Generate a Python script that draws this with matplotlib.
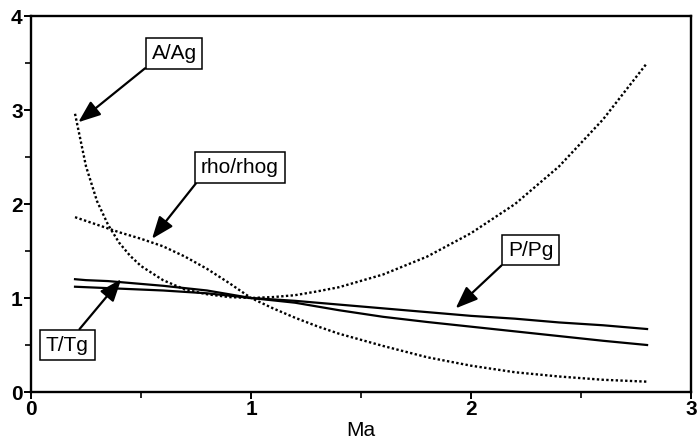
import numpy as np
import matplotlib
matplotlib.use("Agg")
import matplotlib.pyplot as plt
from matplotlib.ticker import MultipleLocator

plt.rcParams['font.family'] = ['Liberation Sans', 'DejaVu Sans']

# Mach numbers where the curves were read
ma = [0.2, 0.25, 0.3, 0.35, 0.4, 0.45, 0.5, 0.6, 0.7, 0.8, 0.9, 1.0, 1.1,
      1.2, 1.3, 1.4, 1.6, 1.8, 2.0, 2.2, 2.4, 2.6, 2.8]

# ratios
a_ag = [2.96, 2.40, 2.03, 1.78, 1.59, 1.45, 1.34, 1.19, 1.09, 1.04, 1.01,
        1.0, 1.01, 1.03, 1.07, 1.115, 1.25, 1.44, 1.69, 2.0, 2.4, 2.9, 3.5]
rho_rhog = [1.86, 1.82, 1.78, 1.74, 1.70, 1.665, 1.63, 1.55, 1.44, 1.31,
            1.16, 1.0, 0.89, 0.79, 0.70, 0.62, 0.49, 0.37, 0.28, 0.21,
            0.165, 0.13, 0.11]
t_tg = [1.20, 1.19, 1.185, 1.18, 1.17, 1.16, 1.15, 1.13, 1.105, 1.08,
        1.04, 1.0, 0.975, 0.95, 0.91, 0.87, 0.80, 0.745, 0.695, 0.645,
        0.595, 0.545, 0.50]
p_pg = [1.12, 1.115, 1.11, 1.105, 1.10, 1.095, 1.09, 1.08, 1.065, 1.05,
        1.025, 1.0, 0.985, 0.97, 0.95, 0.93, 0.89, 0.85, 0.81, 0.78,
        0.74, 0.71, 0.67]

fig = plt.figure(figsize=(6.97, 4.42), dpi=100)
ax = fig.add_axes([0.0445, 0.1131, 0.947, 0.8507])

dots = (0, (1, 1))
ax.plot(ma, a_ag, color='black', lw=1.7, linestyle=dots)
ax.plot(ma, rho_rhog, color='black', lw=1.7, linestyle=dots)
ax.plot(ma, t_tg, color='black', lw=1.6)
ax.plot(ma, p_pg, color='black', lw=1.6)

ax.set_xlim(0, 3)
ax.set_ylim(0, 4)
ax.xaxis.set_major_locator(MultipleLocator(1))
ax.xaxis.set_minor_locator(MultipleLocator(0.5))
ax.yaxis.set_major_locator(MultipleLocator(1))
ax.yaxis.set_minor_locator(MultipleLocator(0.5))
ax.tick_params(which='major', length=5, width=1.4, direction='out', labelsize=15, pad=1)
ax.tick_params(which='minor', length=4, width=1.2, direction='out')
for lab in ax.get_xticklabels() + ax.get_yticklabels():
    lab.set_fontweight('bold')
for s in ax.spines.values():
    s.set_linewidth(1.7)
ax.set_xlabel('Ma', fontsize=15, labelpad=1)

box = dict(boxstyle='square,pad=0.28', fc='white', ec='black', lw=1.1)

def label(text, tip, pos, rel):
    ax.annotate(text, xy=tip, xytext=pos, fontsize=15, ha='center', va='center',
                bbox=box,
                arrowprops=dict(arrowstyle='-|>,head_length=0.9,head_width=0.35',
                                color='black', lw=1.6, mutation_scale=15,
                                relpos=rel, shrinkA=0, shrinkB=0))

label('A/Ag', (0.215, 2.87), (0.65, 3.6), (0, 0))
label('rho/rhog', (0.55, 1.63), (0.95, 2.39), (0, 0))
label('T/Tg', (0.41, 1.2), (0.165, 0.5), (0.66, 1))
label('P/Pg', (1.93, 0.89), (2.27, 1.51), (0, 0))

fig.savefig('out.png', dpi=100)
